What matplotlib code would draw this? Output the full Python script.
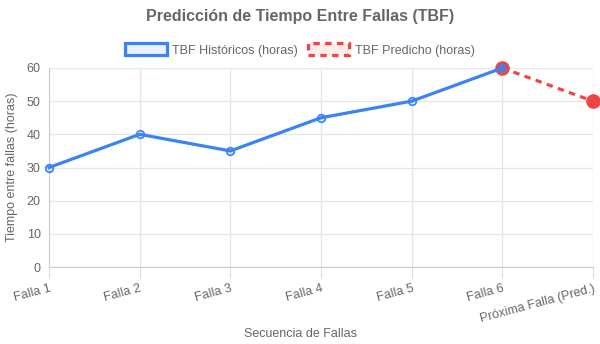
import numpy as np
import matplotlib
matplotlib.use('Agg')
import matplotlib.pyplot as plt
from matplotlib.patches import Patch

plt.rcParams['font.family'] = ['Liberation Sans', 'DejaVu Sans']

# data
etiquetas = ['Falla 1', 'Falla 2', 'Falla 3', 'Falla 4', 'Falla 5', 'Falla 6', 'Próxima Falla (Pred.)']
tbf_historico = [30, 40, 35, 45, 50, 60, np.nan]
tbf_predicho = [np.nan, np.nan, np.nan, np.nan, np.nan, 60, 50]

azul = '#3b82f6'
rojo = '#ef4444'
gris = '#666666'

fig = plt.figure(figsize=(6, 3.44), dpi=100)
ax = fig.add_axes([49/600, 1-267/344, (593-49)/600, (267-68)/344])

x = np.arange(len(etiquetas))
ax.plot(x, tbf_historico, color=azul, lw=2.3, marker='o', ms=5.5,
        mfc=(0.23, 0.51, 0.96, 0.15), mec=azul, mew=1.2, zorder=4, clip_on=False)
ax.plot(x, tbf_predicho, color=rojo, lw=2.3, ls=(0, (2, 1.7)), marker='o', ms=9.5,
        mfc=rojo, mec=rojo, zorder=3, clip_on=False)

ax.set_xlim(0, len(etiquetas)-1)
ax.set_ylim(0, 60)
ax.set_yticks(range(0, 61, 10))
ax.set_xticks(x)
ax.set_xticklabels(etiquetas, rotation=15, ha='right', rotation_mode='anchor')
ax.tick_params(axis='x', length=8, color='#dddddd', labelsize=9, labelcolor=gris, pad=3)
ax.tick_params(axis='y', length=0, labelsize=9, labelcolor=gris, pad=6)
ax.grid(True, color='#e5e5e5', lw=0.9)
ax.set_axisbelow(True)
for s in ['top', 'right']:
    ax.spines[s].set_visible(False)
for s in ['left', 'bottom']:
    ax.spines[s].set_color('#cccccc')

ax.set_ylabel('Tiempo entre fallas (horas)', fontsize=9, color=gris, labelpad=6)
fig.text(0.5, 1-334/344, 'Secuencia de Fallas', ha='center', va='center', fontsize=9, color=gris)
fig.text(0.5, 1-17/344, 'Predicción de Tiempo Entre Fallas (TBF)', ha='center', va='center',
         fontsize=11.5, fontweight='bold', color=gris)

handles = [Patch(facecolor='#ebf2fe', edgecolor=azul, lw=2.3, label='TBF Históricos (horas)'),
           Patch(facecolor='#fdeaea', edgecolor=rojo, lw=2.3, ls=(0, (2, 1.7)), label='TBF Predicho (horas)')]
leg = fig.legend(handles=handles, loc='center', bbox_to_anchor=(0.5, 1-50/344), ncol=2,
                 frameon=False, fontsize=9, handlelength=3.3, handleheight=1.1,
                 handletextpad=0.45, columnspacing=0.8)
for t in leg.get_texts():
    t.set_color(gris)

fig.savefig('out.png', dpi=100)
